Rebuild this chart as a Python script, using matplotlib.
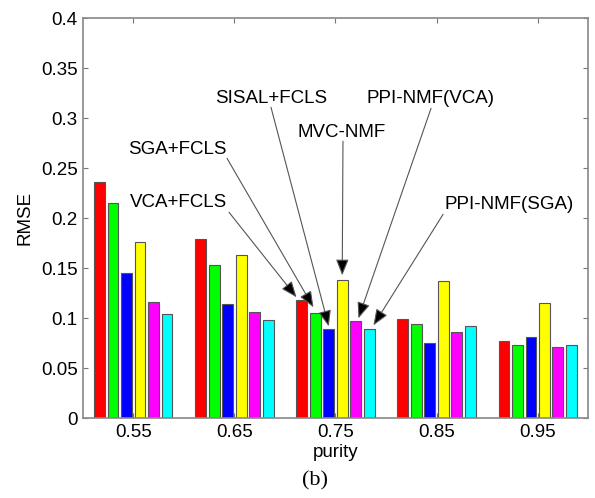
import matplotlib
matplotlib.use("Agg")
import matplotlib.pyplot as plt
import numpy as np

plt.rcParams['font.family'] = ['Liberation Sans', 'DejaVu Sans']

purity = ["0.55", "0.65", "0.75", "0.85", "0.95"]
methods = ["VCA+FCLS", "SGA+FCLS", "SISAL+FCLS", "MVC-NMF", "PPI-NMF(VCA)", "PPI-NMF(SGA)"]
vca_fcls   = [0.236, 0.179, 0.118, 0.099, 0.077]
sga_fcls   = [0.215, 0.153, 0.105, 0.094, 0.073]
sisal_fcls = [0.145, 0.114, 0.089, 0.075, 0.081]
mvc_nmf    = [0.176, 0.163, 0.138, 0.137, 0.115]
ppi_vca    = [0.116, 0.106, 0.097, 0.086, 0.071]
ppi_sga    = [0.104, 0.098, 0.089, 0.092, 0.073]
series = [vca_fcls, sga_fcls, sisal_fcls, mvc_nmf, ppi_vca, ppi_sga]
colors = ["#ff0000", "#00ff00", "#0000ff", "#ffff00", "#ff00ff", "#00ffff"]
yticks = [0, 0.05, 0.1, 0.15, 0.2, 0.25, 0.3, 0.35, 0.4]
ytick_labels = ["0", "0.05", "0.1", "0.15", "0.2", "0.25", "0.3", "0.35", "0.4"]

fig = plt.figure(figsize=(5.95, 4.98), dpi=100)
ax = fig.add_axes([0.139, 0.160, 0.8497, 0.8033])

x = np.arange(1, len(purity) + 1)
n = len(series)
group_w = 0.8
pitch = group_w / n
bar_w = pitch * 0.81
for i, (vals, c) in enumerate(zip(series, colors)):
    ax.bar(x + (i - (n - 1) / 2) * pitch, vals, width=bar_w, color=c,
           edgecolor="#555555", linewidth=0.8, zorder=2)

ax.set_xlim(0.5, 5.5)
ax.set_ylim(0, 0.4)
ax.set_xticks(x)
ax.set_xticklabels(purity)
ax.set_yticks(yticks)
ax.set_yticklabels(ytick_labels)
ax.tick_params(direction='in', length=3.6, width=0.8, color='#777777',
               top=True, right=True, labelsize=13.5, pad=4)
ax.tick_params(axis='y', pad=3.5)
for s in ax.spines.values():
    s.set_color('#888888')
    s.set_linewidth(1.2)

ax.set_ylabel("RMSE", fontsize=13.5)
ax.yaxis.set_label_coords(-0.097, 0.5)
ax.set_xlabel("purity", fontsize=13.5, va='top')
ax.xaxis.set_label_coords(0.5, -0.064)

fig.text(0.529, 0.034, "(b)", fontsize=16, family='Liberation Serif',
         ha='center', va='center')

# annotations: label text position (baseline), line start, tip offsets
g = 2  # group index of purity 0.75
text_pos = [(1.452, 0.211), (1.433, 0.264), (2.362, 0.315),
            (3.060, 0.281), (3.940, 0.315), (4.722, 0.209)]
line_start = [(1.947, 0.206), (1.927, 0.260), (2.362, 0.311),
              (3.074, 0.277), (3.945, 0.310), (4.064, 0.204)]
tip_off = [(-0.052, 0.003), (-0.018, 0.006), (0.0, 0.003),
           (0.0, 0.005), (0.027, 0.003), (0.042, 0.004)]
for i, name in enumerate(methods):
    tx, ty = text_pos[i]
    ax.text(tx, ty, name, fontsize=13.5, ha='center', va='baseline', zorder=4)
    bx = x[g] + (i - (n - 1) / 2) * pitch
    by = series[i][g]
    ax.annotate('', xy=(bx + tip_off[i][0], by + tip_off[i][1]),
                xytext=line_start[i],
                arrowprops=dict(arrowstyle='-|>,head_length=0.7,head_width=0.28',
                                ec='#555555', fc='black', lw=0.8,
                                mutation_scale=14, shrinkA=0, shrinkB=0),
                zorder=5)

fig.savefig("out.png", dpi=100)
